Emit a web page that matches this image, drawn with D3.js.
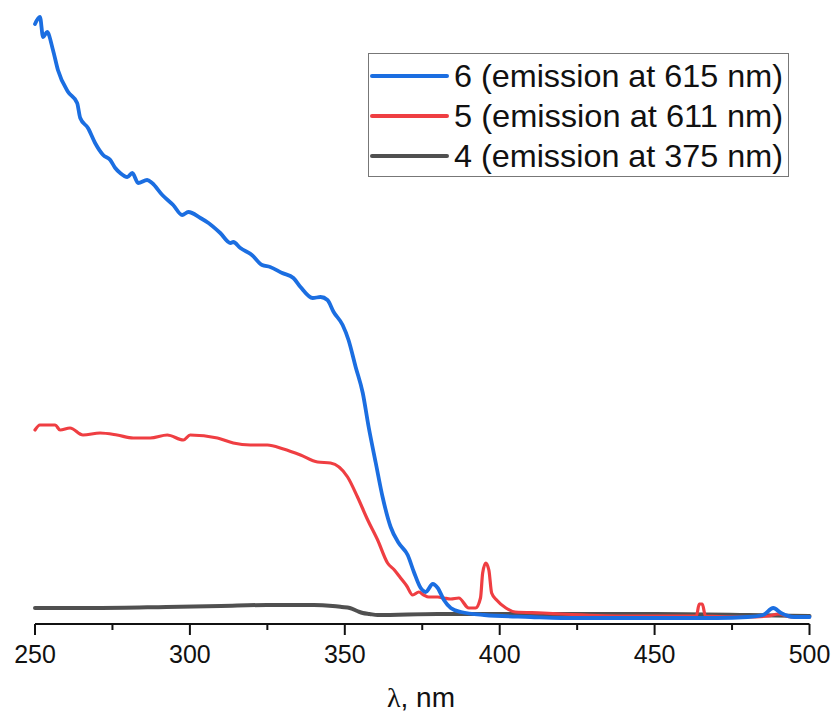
<!DOCTYPE html>
<html>
<head>
<meta charset="utf-8">
<script src="https://cdn.jsdelivr.net/npm/d3@7"></script>
<style>
  html, body { margin: 0; padding: 0; background: #fff; }
  svg text { font-family: "Liberation Sans", Arial, sans-serif; fill: #111; }
</style>
</head>
<body>
<svg id="chart" width="835" height="726"></svg>
<script>
// ── Data (intensity in arbitrary units) ───────────────────────────────────
const seriesNames = ['6 (emission at 615 nm)', '5 (emission at 611 nm)', '4 (emission at 375 nm)'];
const seriesColors = ['#1b6ee1', '#ef3e42', '#505050'];
const xTicks = [250, 300, 350, 400, 450, 500];

const wl6 = [250, 251.6, 252.6, 253.9, 255.8, 257.4, 260.7, 263.6, 264.6, 267.1, 269.4, 272.0, 274.3, 275.9,
  277.5, 279.8, 281.4, 283.3, 286.2, 287.8, 291.1, 294.6, 297.5, 299.5, 303.4, 306.0, 309.8, 313.1, 314.0,
  316.3, 320.0, 323.3, 325.9, 329.8, 333.4, 335.7, 339.6, 342.2, 344.4, 346.4, 349.3, 351.2, 353.5, 355.8,
  357.7, 360.0, 362.2, 364.8, 367.4, 370.3, 372.3, 374.5, 376.1, 378.4, 380.0, 382.0, 384.2, 387.5, 395,
  410, 420, 440, 470, 480, 485, 488.3, 490.8, 495, 500];
const int6 = [598, 605, 585, 590, 572, 552, 530, 519, 504, 494, 479, 467, 462, 454,
  449, 445, 449, 439, 442, 439, 427, 417, 407, 410, 404, 399, 389, 379, 380,
  374, 367, 357, 355, 349, 344, 335, 324, 325, 322, 310, 297, 282, 255, 229,
  195, 159, 125, 95, 79, 67, 50, 34, 30, 38, 34, 22, 14, 10, 7,
  5, 4, 4, 4, 5, 7, 14, 9, 5, 5];

const wl5 = [250, 251.6, 254.9, 256.5, 258.1, 261.3, 265.5, 271.0, 276.5, 281.7, 287.2, 292.7, 297.9, 300.1,
  308.9, 314.0, 319.5, 325.0, 330.2, 335.7, 341.2, 345.4, 350.9, 354.1, 357.4, 360.6, 363.8, 366, 368.0,
  370, 371.9, 373.9, 375.5, 377.1, 380.0, 382, 384.2, 386.8, 390, 392.2, 393.8, 394.5, 395.5, 396.5, 397.4,
  399, 402, 405, 414, 420, 440, 463.5, 464.4, 465.4, 466.4, 480, 486.7, 490, 494.2, 500];
const int5 = [192, 197, 197, 197, 192, 194, 187, 189, 187, 184, 184, 187, 182, 187,
  184, 179, 177, 177, 173, 167, 160, 159, 145, 125, 102, 82, 59, 52, 44,
  36, 27, 30, 27, 25, 25, 24, 23, 24, 14, 14, 24, 49, 59, 52, 29,
  22, 14, 10, 9, 8, 6, 6, 18, 18, 6, 5, 6, 8, 5, 5];

const wl4 = [250, 270, 292.4, 310, 324.8, 340, 346.1, 349, 351.6, 354, 355.8, 358, 360.6, 380, 400, 450, 480, 500];
const int4 = [14, 14, 15, 16, 17, 17, 16, 15, 14, 11, 9, 8, 7, 8, 8, 8, 7, 6];

const series = [
  { name: seriesNames[0], color: seriesColors[0], width: 3.8, x: wl6, y: int6 },
  { name: seriesNames[1], color: seriesColors[1], width: 3.2, x: wl5, y: int5 },
  { name: seriesNames[2], color: seriesColors[2], width: 4, x: wl4, y: int4 },
];

// ── Layout ────────────────────────────────────────────────────────────────
const svg = d3.select('#chart');
const axisY = 624;

const x = d3.scaleLinear().domain([250, 500]).range([35, 809.5]);
const y = d3.scaleLinear().domain([0, 600]).range([622, 22]);

const line = d3.line()
  .x(d => x(d[0]))
  .y(d => y(d[1]))
  .curve(d3.curveMonotoneX);

// gray first, then red, blue on top
[2, 1, 0].forEach(i => {
  const s = series[i];
  svg.append('path')
    .datum(s.x.map((v, k) => [v, s.y[k]]))
    .attr('fill', 'none')
    .attr('stroke', s.color)
    .attr('stroke-width', s.width)
    .attr('stroke-linejoin', 'round')
    .attr('stroke-linecap', 'round')
    .attr('d', line);
});

// ── X axis ────────────────────────────────────────────────────────────────
const minorTicks = d3.range(275, 500, 50);

svg.append('line')
  .attr('x1', x(250)).attr('x2', x(500))
  .attr('y1', axisY).attr('y2', axisY)
  .attr('stroke', '#111').attr('stroke-width', 2);

svg.selectAll('.major')
  .data(xTicks)
  .join('line')
  .attr('x1', d => x(d)).attr('x2', d => x(d))
  .attr('y1', axisY).attr('y2', axisY + 11)
  .attr('stroke', '#111').attr('stroke-width', 2);

svg.selectAll('.minor')
  .data(minorTicks)
  .join('line')
  .attr('x1', d => x(d)).attr('x2', d => x(d))
  .attr('y1', axisY).attr('y2', axisY + 6)
  .attr('stroke', '#111').attr('stroke-width', 2);

svg.selectAll('.tick-label')
  .data(xTicks)
  .join('text')
  .attr('x', d => x(d))
  .attr('y', 663)
  .attr('text-anchor', 'middle')
  .attr('font-size', 25)
  .text(d => d);

const title = svg.append('text')
  .attr('x', 421).attr('y', 707)
  .attr('text-anchor', 'middle')
  .attr('font-size', 28);
title.append('tspan').style('font-family', '"Liberation Serif", "Times New Roman", serif').text('λ');
title.append('tspan').text(', nm');

// ── Legend ────────────────────────────────────────────────────────────────
const legend = svg.append('g');
legend.append('rect')
  .attr('x', 368.5).attr('y', 53.5)
  .attr('width', 420).attr('height', 123)
  .attr('fill', '#fff')
  .attr('stroke', '#777').attr('stroke-width', 1);

series.forEach((s, i) => {
  const ly = 76 + i * 40;
  legend.append('line')
    .attr('x1', 372).attr('x2', 447)
    .attr('y1', ly).attr('y2', ly)
    .attr('stroke', s.color).attr('stroke-width', 4)
    .attr('stroke-linecap', 'round');
  legend.append('text')
    .attr('x', 454).attr('y', ly + 11)
    .attr('font-size', 31.5)
    .attr('textLength', 329)
    .attr('lengthAdjust', 'spacingAndGlyphs')
    .text(s.name);
});
</script>
</body>
</html>
